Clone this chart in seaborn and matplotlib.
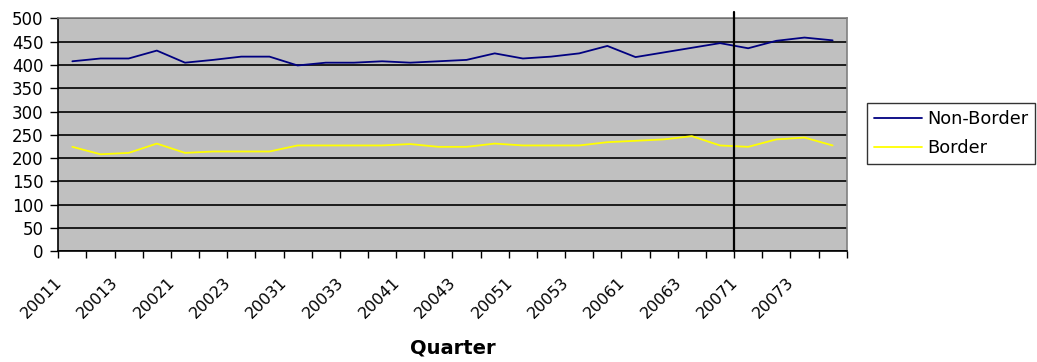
import numpy as np
import pandas as pd
import matplotlib
matplotlib.use("Agg")
import matplotlib.pyplot as plt
from matplotlib import transforms
import seaborn as sns

# Quarterly counts, 2001 Q1 to 2007 Q4
quarters = [
    "20011", "20012", "20013", "20014",
    "20021", "20022", "20023", "20024",
    "20031", "20032", "20033", "20034",
    "20041", "20042", "20043", "20044",
    "20051", "20052", "20053", "20054",
    "20061", "20062", "20063", "20064",
    "20071", "20072", "20073", "20074",
]
non_border = [
    408, 414, 414, 431, 405, 411, 418, 418,
    399, 405, 405, 408, 405, 408, 411, 425,
    414, 418, 425, 441, 417, 427, 437, 447,
    436, 452, 459, 453,
]
border = [
    224, 208, 211, 231, 211, 214, 214, 214,
    227, 227, 227, 227, 230, 224, 224, 231,
    227, 227, 227, 234, 237, 240, 247, 227,
    224, 240, 244, 227,
]
series_names = ["Non-Border", "Border"]
series_colors = ["#000080", "#FFFF00"]
y_ticks = list(range(0, 501, 50))
break_quarter = "20071"

sns.set_theme(style="white")
plt.rcParams["font.family"] = ["DejaVu Sans"]

n = len(quarters)
df = pd.DataFrame({
    "pos": list(range(n)) * 2,
    "value": non_border + border,
    "series": [series_names[0]] * n + [series_names[1]] * n,
})

fig = plt.figure(figsize=(10.37, 3.62), dpi=100)
ax = fig.add_axes([0.0562, 0.3066, 0.7603, 0.6423])
ax.set_facecolor("#C0C0C0")

sns.lineplot(data=df, x="pos", y="value", hue="series", hue_order=series_names,
             palette=series_colors, linewidth=1.3, ax=ax, legend=True)

ax.set_xlim(-0.5, n - 0.5)
ax.set_ylim(0, 500)

# horizontal gridlines
ax.set_axisbelow(True)
ax.yaxis.grid(True, color="black", linewidth=1.2)
ax.xaxis.grid(False)

# spines: dark axis lines, grey frame on the other sides
for side in ("left", "bottom"):
    ax.spines[side].set_color("black")
    ax.spines[side].set_linewidth(1.2)
for side in ("top", "right"):
    ax.spines[side].set_color("#808080")
    ax.spines[side].set_linewidth(1.2)

# y axis
ax.set_yticks(y_ticks)
ax.set_yticklabels([str(v) for v in y_ticks])
ax.tick_params(axis="y", which="major", left=True, length=5.5, width=1.0,
               color="black", direction="out", pad=5.0, labelsize=12,
               labelcolor="black")
ax.set_ylabel("")

# x axis: tick marks between categories, labels on every other quarter
ax.set_xticks(np.arange(-0.5, n, 1), minor=True)
ax.set_xticks(range(0, n, 2))
ax.set_xticklabels(quarters[::2], rotation=45, ha="right", va="top",
                   rotation_mode="anchor")
ax.tick_params(axis="x", which="major", bottom=True, length=0, pad=17,
               labelsize=11.5, labelcolor="black")
ax.tick_params(axis="x", which="minor", bottom=True, length=5, width=1.0,
               color="black", direction="out")
shift = transforms.ScaledTranslation(-0.18, 0, fig.dpi_scale_trans)
for lbl in ax.get_xticklabels():
    lbl.set_transform(lbl.get_transform() + shift)

ax.set_xlabel("Quarter", fontsize=14, fontweight="bold", color="black")
ax.xaxis.set_label_coords(0.5, -0.417)
ax.xaxis.label.set_va("center")

# marker between 2006 Q4 and 2007 Q1
bx = quarters.index(break_quarter) - 0.5
ax.axvline(bx, ymin=0, ymax=1.026, color="black", linewidth=1.6, clip_on=False,
           zorder=5)

handles, labels = ax.get_legend_handles_labels()
ax.get_legend().remove()
leg = fig.legend(handles, labels, loc="upper left",
                 bbox_to_anchor=(867 / 1037, 1 - 103 / 362),
                 borderaxespad=0, frameon=True, fancybox=False,
                 edgecolor="black", fontsize=12.8, handlelength=2.7,
                 handletextpad=0.3, borderpad=0.38, labelspacing=0.62)
leg.get_frame().set_linewidth(1.0)
for t in leg.get_texts():
    t.set_color("black")

fig.savefig("out.png", dpi=100, facecolor="white")
